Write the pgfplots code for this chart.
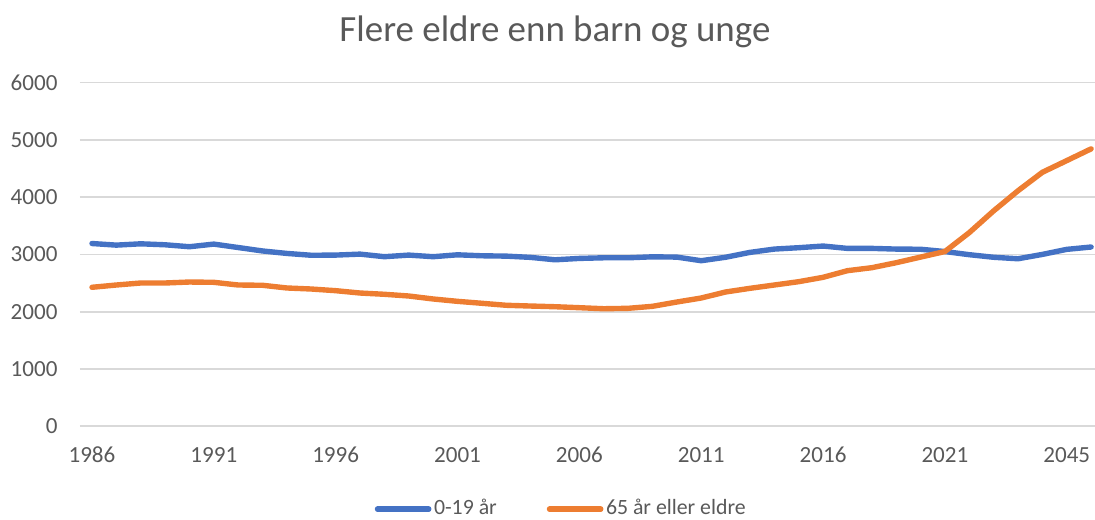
\documentclass[border=0pt]{standalone}
\usepackage{pgfplots}
\pgfplotsset{compat=1.18}
\usepackage{fontspec}
\setmainfont{Carlito}
\definecolor{cblue}{HTML}{4472C4}
\definecolor{corange}{HTML}{ED7D31}
\definecolor{cgrid}{HTML}{D9D9D9}
\definecolor{ctext}{HTML}{595959}
\begin{document}
\begin{tikzpicture}
\begin{axis}[
  name=ax, at={(0pt,0pt)}, anchor=south west,
  scale only axis, width=395.93pt, height=134.08pt,
  xmin=-0.5, xmax=41.16, ymin=0, ymax=6000,
  xtick={0,5,10,15,20,25,30,35,40},
  xticklabels={1986,1991,1996,2001,2006,2011,2016,2021,2045},
  ytick={0,1000,2000,3000,4000,5000,6000},
  ymajorgrids, grid style={cgrid, line width=0.7pt},
  axis line style={draw=none},
  major tick length=0pt,
  tick style={draw=none},
  /pgf/number format/assume math mode=true,
  /pgf/number format/1000 sep={},
  tick label style={font=\fontsize{9}{11}\selectfont, text=ctext},
  yticklabel style={inner sep=0pt, anchor=east, xshift=-8.5pt},
  xticklabel style={inner sep=0pt, anchor=base, yshift=-14pt},
  legend columns=2,
  legend style={at={(0.4745,-0.241)}, anchor=center, draw=none, fill=none,
    font=\fontsize{8.5}{10}\selectfont, text=ctext,
    /tikz/every even column/.append style={column sep=18.5pt},
    nodes={inner sep=1pt}},
  legend image code/.code={\draw[#1, line cap=round] (0pt,0pt) -- (20pt,0pt);},
]
\addplot[cblue, line width=2.1pt, line cap=round, line join=round] coordinates {
(0,3190)(1,3162)(2,3185)(3,3168)(4,3134)(5,3180)(6,3120)(7,3060)(8,3017)(9,2985)
(10,2988)(11,3005)(12,2960)(13,2988)(14,2960)(15,2993)(16,2976)(17,2970)(18,2948)(19,2906)
(20,2930)(21,2941)(22,2941)(23,2958)(24,2953)(25,2890)(26,2950)(27,3035)(28,3093)(29,3117)
(30,3146)(31,3105)(32,3105)(33,3093)(34,3090)(35,3050)(36,2995)(37,2950)(38,2924)(39,3000)
(40,3088)(41,3129)};
\addlegendentry{0-19 år}
\addplot[corange, line width=2.1pt, line cap=round, line join=round] coordinates {
(0,2426)(1,2466)(2,2501)(3,2501)(4,2518)(5,2513)(6,2466)(7,2461)(8,2414)(9,2396)
(10,2367)(11,2326)(12,2304)(13,2274)(14,2222)(15,2181)(16,2147)(17,2112)(18,2099)(19,2087)
(20,2070)(21,2052)(22,2059)(23,2094)(24,2169)(25,2239)(26,2344)(27,2408)(28,2466)(29,2524)
(30,2600)(31,2716)(32,2768)(33,2855)(34,2953)(35,3050)(36,3380)(37,3760)(38,4111)(39,4433)
(40,4637)(41,4842)};
\addlegendentry{65 år eller eldre}
\end{axis}
\node[anchor=base, font=\fontsize{14.4}{17}\selectfont, text=ctext, inner sep=0pt] at (185.3pt,149.9pt) {Flere eldre enn barn og unge};
\pgfresetboundingbox
\path (-31.12pt,-36.54pt) rectangle (395.93pt,166.26pt);
\end{tikzpicture}
\end{document}
